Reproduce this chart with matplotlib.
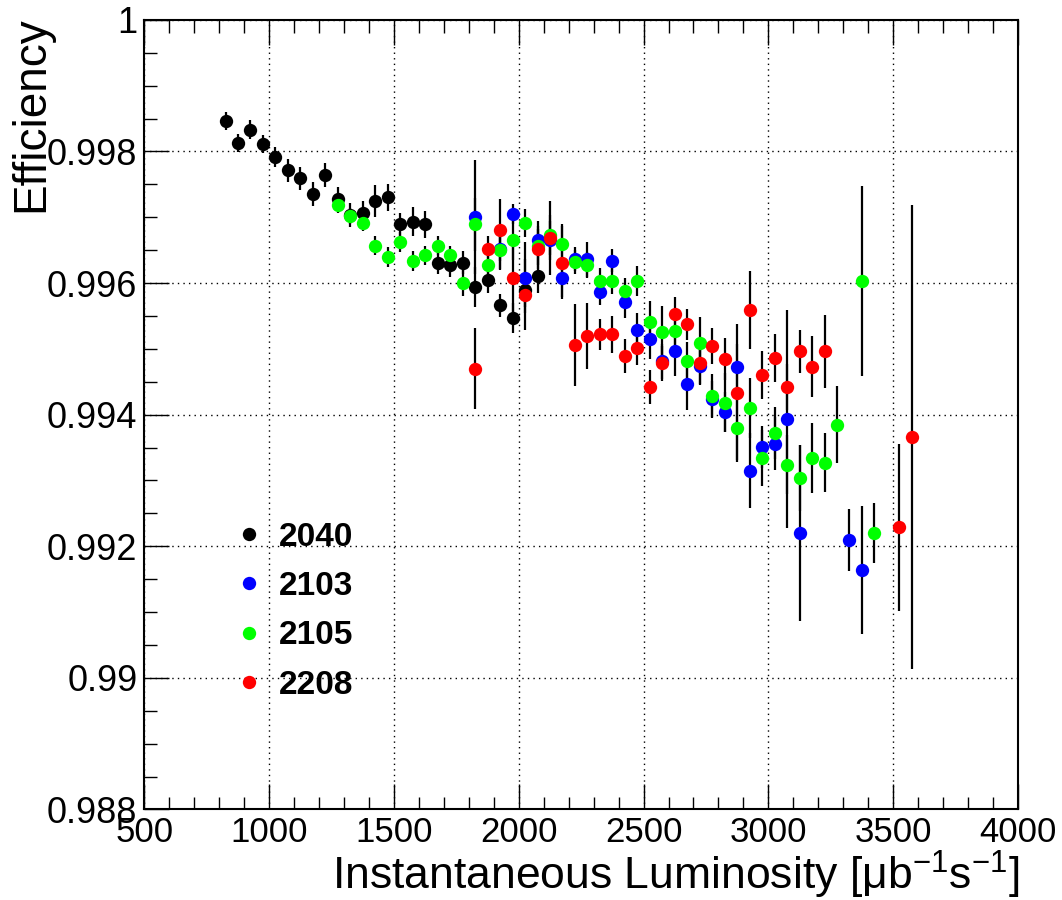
import matplotlib
matplotlib.use("Agg")
import matplotlib.pyplot as plt
from matplotlib import font_manager
from matplotlib.ticker import MultipleLocator, FuncFormatter
from matplotlib.lines import Line2D

# --- data ---
run_labels = ["2040", "2103", "2105", "2208"]
run_colors = ["#000000", "#0000ff", "#00ff00", "#ff0000"]

lumi_2040 = [825, 875, 925, 975, 1025, 1075, 1125, 1175, 1225, 1275, 1325, 1375, 1425,
             1475, 1525, 1575, 1625, 1675, 1725, 1775, 1825, 1875, 1925, 1975, 2025, 2075]
eff_2040 = [0.99846, 0.99813, 0.99833, 0.99811, 0.99791, 0.99771, 0.99759, 0.99735, 0.99764,
            0.99728, 0.99703, 0.99706, 0.99725, 0.99730, 0.99689, 0.99693, 0.99689, 0.99631,
            0.99627, 0.99631, 0.99594, 0.99605, 0.99566, 0.99547, 0.99589, 0.99610]
err_2040 = [1.4, 1.4, 1.4, 1.4, 1.5, 1.8, 1.8, 1.8, 1.8, 1.8, 1.8, 1.8, 2.4,
            2.1, 1.8, 2.2, 2.0, 1.8, 1.8, 1.8, 3.1, 2.0, 1.8, 2.3, 2.5, 2.5]

lumi_2103 = [1825, 1925, 1975, 2025, 2075, 2125, 2175, 2225, 2275, 2325, 2375, 2425, 2475, 2525,
             2575, 2625, 2675, 2725, 2775, 2825, 2875, 2925, 2975, 3025, 3075, 3125, 3325, 3375]
eff_2103 = [0.99700, 0.99652, 0.99705, 0.99608, 0.99665, 0.99665, 0.99608, 0.99636, 0.99636,
            0.99586, 0.99634, 0.99571, 0.99528, 0.99515, 0.99481, 0.99497, 0.99447, 0.99474,
            0.99424, 0.99404, 0.99473, 0.99315, 0.99351, 0.99356, 0.99393, 0.99220, 0.99210,
            0.99164]
err_2103 = [8.7, 3.0, 1.5, 5.4, 3.0, 3.0, 3.0, 1.8, 2.7, 2.0, 1.8, 2.4, 2.6, 3.0,
            2.7, 3.8, 4.0, 2.7, 2.7, 3.0, 3.5, 5.7, 3.2, 4.0, 16.6, 13.4, 4.7, 9.7]

lumi_2105 = [1275, 1325, 1375, 1425, 1475, 1525, 1575, 1625, 1675, 1725, 1775, 1825, 1875,
             1925, 1975, 2025, 2075, 2125, 2175, 2225, 2275, 2325, 2375, 2425, 2475, 2525,
             2575, 2625, 2675, 2725, 2775, 2825, 2875, 2925, 2975, 3025, 3075, 3125, 3175,
             3225, 3275, 3375, 3425]
eff_2105 = [0.99719, 0.99702, 0.99691, 0.99657, 0.99640, 0.99662, 0.99633, 0.99642, 0.99657,
            0.99642, 0.99600, 0.99689, 0.99628, 0.99650, 0.99665, 0.99691, 0.99657, 0.99673,
            0.99660, 0.99632, 0.99627, 0.99603, 0.99603, 0.99588, 0.99603, 0.99541, 0.99525,
            0.99527, 0.99481, 0.99509, 0.99428, 0.99418, 0.99379, 0.99410, 0.99334, 0.99372,
            0.99324, 0.99304, 0.99334, 0.99327, 0.99385, 0.99603, 0.99220]
err_2105 = [1.2, 1.2, 1.2, 1.5, 1.5, 1.5, 1.5, 1.5, 1.5, 1.5, 2.0, 4.0, 3.0,
            3.0, 3.0, 2.1, 3.0, 3.0, 3.0, 1.8, 2.0, 2.0, 2.0, 2.0, 2.3, 3.2,
            4.0, 3.0, 3.0, 4.0, 3.3, 4.5, 4.8, 4.5, 4.2, 4.0, 4.5, 5.0, 5.3,
            4.5, 5.8, 14.5, 4.6]

lumi_2208 = [1825, 1875, 1925, 1975, 2025, 2075, 2125, 2175, 2225, 2275, 2325, 2375, 2425,
             2475, 2525, 2575, 2625, 2675, 2725, 2775, 2825, 2875, 2925, 2975, 3025, 3075,
             3125, 3175, 3225, 3525, 3575]
eff_2208 = [0.99470, 0.99652, 0.99681, 0.99607, 0.99582, 0.99652, 0.99668, 0.99631, 0.99506,
            0.99519, 0.99522, 0.99522, 0.99489, 0.99502, 0.99442, 0.99478, 0.99553, 0.99537,
            0.99478, 0.99504, 0.99484, 0.99433, 0.99559, 0.99460, 0.99486, 0.99442, 0.99496,
            0.99473, 0.99496, 0.99229, 0.99366]
err_2208 = [6.2, 2.0, 4.7, 6.0, 5.4, 3.0, 5.6, 5.5, 6.2, 5.0, 2.4, 2.8, 2.6,
            2.6, 2.6, 2.7, 2.6, 2.4, 3.3, 2.7, 3.2, 10.5, 5.9, 3.6, 3.7, 3.5,
            3.2, 4.6, 5.5, 12.7, 35.2]

series = [
    (lumi_2040, eff_2040, err_2040),
    (lumi_2103, eff_2103, err_2103),
    (lumi_2105, eff_2105, err_2105),
    (lumi_2208, eff_2208, err_2208),
]

# fonts: ROOT-like helvetica look
names = {f.name for f in font_manager.fontManager.ttflist}
narrow = "Liberation Sans Narrow" if "Liberation Sans Narrow" in names else "Liberation Sans"
plt.rcParams["font.family"] = ["Liberation Sans", "DejaVu Sans"]
plt.rcParams["mathtext.fontset"] = "custom"
plt.rcParams["mathtext.rm"] = "Liberation Sans"
plt.rcParams["mathtext.default"] = "regular"

fig = plt.figure(figsize=(10.62, 9), dpi=100)
ax = fig.add_axes([0.136, 0.1006, 0.8225, 0.8774])

for (x, y, e), color in zip(series, run_colors):
    ax.errorbar(x, y, yerr=[v * 1e-4 for v in e], fmt="o", color=color,
                ecolor="black", elinewidth=1.6, capsize=0, markersize=9.6,
                markeredgewidth=0)

ax.set_xlim(500, 4000)
ax.set_ylim(0.988, 1.0)

ax.xaxis.set_major_locator(MultipleLocator(500))
ax.xaxis.set_minor_locator(MultipleLocator(100))
ax.yaxis.set_major_locator(MultipleLocator(0.002))
ax.yaxis.set_minor_locator(MultipleLocator(0.0005))
ax.yaxis.set_major_formatter(FuncFormatter(lambda v, p: f"{v:.3f}".rstrip("0").rstrip(".")))

ax.grid(True, which="major", color="black", linestyle=(0, (1, 3)), linewidth=1.0)
ax.tick_params(which="both", direction="in", top=True, right=False, width=1.0)
ax.tick_params(which="major", length=18)
ax.tick_params(which="minor", length=9)
ax.tick_params(axis="y", labelsize=26, pad=5)
x_tick_size = 29 if narrow != "Liberation Sans" else 25
ax.tick_params(axis="x", labelsize=x_tick_size, pad=5)
for lab in ax.get_xticklabels():
    lab.set_fontfamily(narrow)
for sp in ax.spines.values():
    sp.set_linewidth(1.5)

ax.set_ylabel("Efficiency", fontsize=33, ha="right")
ax.yaxis.set_label_coords(-0.104, 1.005)
ax.set_xlabel("Instantaneous Luminosity [μb$^{-1}$s$^{-1}$]", fontsize=32, ha="right")
ax.xaxis.set_label_coords(1.002, -0.050)

handles = [Line2D([], [], marker="o", linestyle="none", color=c, markersize=9.6,
                  markeredgewidth=0) for c in run_colors]
leg = ax.legend(handles, run_labels, loc="upper left", bbox_to_anchor=(0.209, 0.439),
                bbox_transform=fig.transFigure, frameon=False, borderpad=0,
                handlelength=0.6, handletextpad=0.6, labelspacing=0.55,
                prop={"size": 24, "weight": "bold"})

fig.savefig("out.png", dpi=100)
plt.close(fig)
